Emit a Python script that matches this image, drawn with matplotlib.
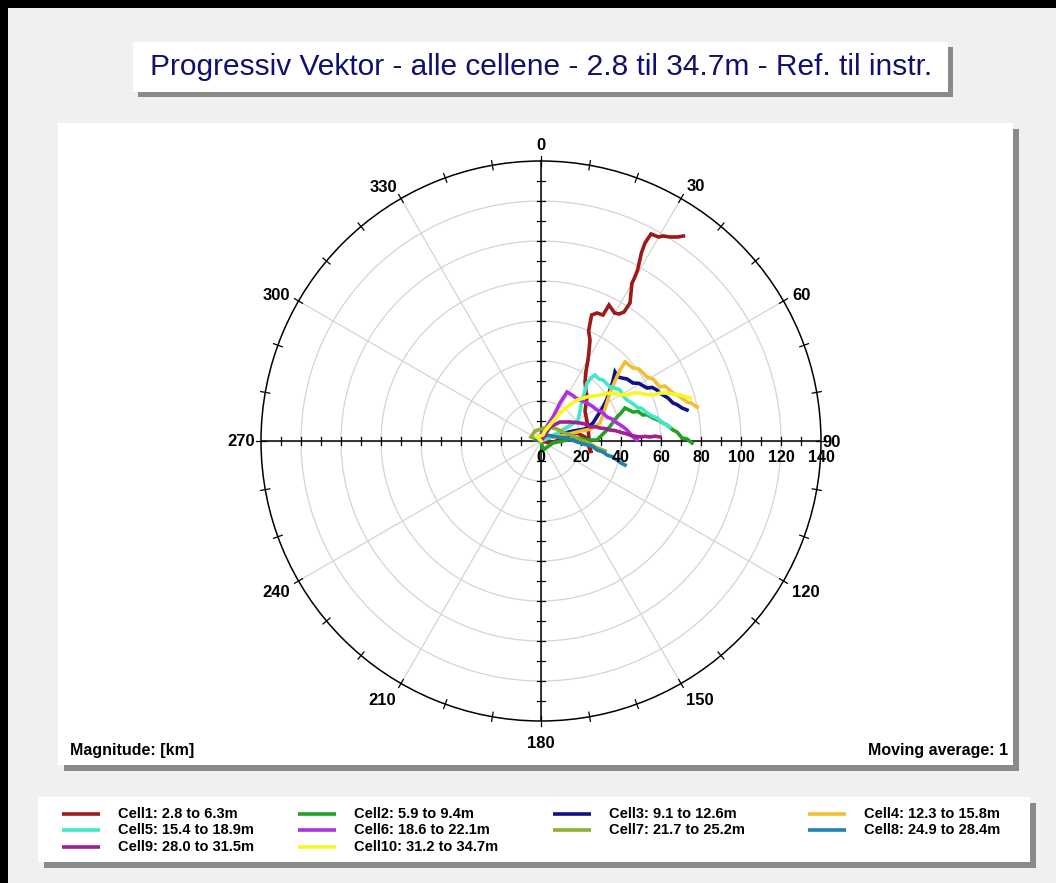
import numpy as np
import matplotlib.pyplot as plt
from matplotlib.patches import Rectangle

plt.rcParams['font.family'] = ['Liberation Sans', 'DejaVu Sans']

# progressive vector end points, km east (x) / km north (y)
cell1_x = [0, 5, 10, 15, 18, 22, 24, 25, 24, 23.5, 22, 23, 22.5, 22, 22.5, 23.5, 24, 24.5, 23.8, 25.3, 28, 31, 34, 36.8, 39, 41.5, 44.5, 45.5, 46.5, 48.3, 50.2, 52, 55, 58.8, 61, 64.5, 68.4, 71.2]
cell1_y = [0, -1, 1, 3, 4, 2, -3, -6, 1, 7, 15, 22, 25, 29.5, 35, 40.5, 45, 50.5, 55, 63, 64, 63, 68, 64, 63.5, 64.5, 69, 79, 81, 85.5, 94, 99, 103.5, 102, 102.5, 102, 102, 102.5]
cell2_x = [0, 1, 6, 13, 19.5, 23, 28, 30, 33, 35, 38, 40, 42, 44, 46, 48.5, 51, 53, 56, 58.5, 61, 63, 66, 68, 70.5, 73, 75.5]
cell2_y = [0, -4.5, -1, 0.5, 1.5, 0.5, 0.5, 2.5, 5.5, 8, 12, 14, 16.5, 15.5, 14.5, 14.8, 13, 13.2, 11.5, 10.5, 9, 8, 5.5, 4.5, 1.5, 1, -1]
cell3_x = [0, 8, 16, 22, 26, 28.5, 31, 33, 34.5, 36, 37, 38.5, 40.5, 43, 46, 49, 53, 55.5, 58, 59.5, 61, 63.5, 66, 68, 70.5, 73]
cell3_y = [0, 3, 5, 6, 9, 13, 17, 21, 25.5, 30, 34.5, 32, 31.5, 31, 29, 28.8, 26.5, 26.8, 25.5, 24, 23, 21.5, 19, 18.2, 16.5, 15.5]
cell4_x = [0, 5, 12, 20, 25, 29.5, 32, 34.5, 37, 39.5, 42, 44, 46, 49, 53, 56, 59.5, 62, 66, 69, 73, 75, 78]
cell4_y = [0, 2, 3, 5, 6, 9, 16, 24, 30, 35.5, 39.5, 38, 36.5, 36, 32, 31, 27, 27.5, 24, 22.5, 19.5, 19, 17]
cell5_x = [0, 5, 10, 15, 18.5, 19.5, 20.5, 22, 23, 25, 27, 29, 31, 34.5, 37, 39.5, 41, 43, 45.5, 48, 50.5, 53, 55.5, 58, 61, 64.5]
cell5_y = [0, 2, 5, 8, 10.5, 15, 20.5, 25, 29, 31.5, 33, 31, 30.5, 27, 26.5, 25.5, 22.5, 20.5, 19, 17, 16.2, 14, 12.5, 11.5, 9, 7]
cell6_x = [0, -1, 2, 6, 9.5, 13, 15.5, 17.5, 19.5, 23, 25.5, 28, 30.5, 33, 35.5, 38, 40.5, 43, 46, 48]
cell6_y = [0, 2, 6, 12, 19, 24.5, 23, 21.5, 20.5, 19, 17.5, 15.5, 14.5, 12, 11, 9, 7.5, 5.5, 2, 0.5]
cell7_x = [0, -5, -3, 3, 8, 12, 16, 20, 24, 27, 32]
cell7_y = [0, 2, 5, 7, 6, 4, 2.5, 0.5, -1, -3, -5]
cell8_x = [0, -2, 3, 8, 13, 18, 23, 26, 28, 31, 33, 36, 38, 40, 42]
cell8_y = [0, 0.5, 3, 2, 1.5, -0.5, -2, -2.8, -4.5, -5.5, -7, -8, -9.5, -11, -12]
cell9_x = [0, 2, 4.5, 9.5, 14.5, 19.5, 22, 24.5, 27, 29.5, 32, 34.5, 37, 39.5, 42, 44.5, 47, 49.5, 52, 54.5, 57, 59.5]
cell9_y = [0, 3, 7, 9.5, 9.5, 9, 8.5, 7, 7.2, 6.5, 6.2, 5.5, 5.2, 4.5, 3.8, 3, 2.4, 2, 2.3, 2, 2.4, 2]
cell10_x = [0, -2, 1, 2, 4.5, 9.5, 13, 18, 23, 26, 29.5, 33, 36, 39.5, 43, 46, 49.5, 53, 56, 59.5, 63, 66, 69.5, 72, 74.5]
cell10_y = [0, 2, 3, 5, 8, 14, 17, 20.5, 22, 22.5, 23, 23.8, 24, 23.2, 23, 24, 24, 23.2, 23, 24, 24, 23.5, 23, 22.2, 21.5]

labels = ['Cell1: 2.8 to 6.3m', 'Cell2: 5.9 to 9.4m', 'Cell3: 9.1 to 12.6m', 'Cell4: 12.3 to 15.8m',
          'Cell5: 15.4 to 18.9m', 'Cell6: 18.6 to 22.1m', 'Cell7: 21.7 to 25.2m', 'Cell8: 24.9 to 28.4m',
          'Cell9: 28.0 to 31.5m', 'Cell10: 31.2 to 34.7m']
colors = ['#a01818', '#22a022', '#10108c', '#f0c030', '#40e8c8',
          '#b030e0', '#90b030', '#2080b0', '#a02090', '#f8f820']
xs = [cell1_x, cell2_x, cell3_x, cell4_x, cell5_x, cell6_x, cell7_x, cell8_x, cell9_x, cell10_x]
ys = [cell1_y, cell2_y, cell3_y, cell4_y, cell5_y, cell6_y, cell7_y, cell8_y, cell9_y, cell10_y]

angle_ticks = list(range(0, 360, 30))
r_ticks = [0, 20, 40, 60, 80, 100, 120, 140]
rmax = 140

W, H = 1056, 883
fig = plt.figure(figsize=(W / 100, H / 100), dpi=100)
fig.patch.set_facecolor('#f0f0f0')

# background layer in pixel coordinates
bg = fig.add_axes([0, 0, 1, 1])
bg.set_xlim(0, W)
bg.set_ylim(H, 0)
bg.axis('off')

def box(x0, y0, x1, y1, sh=6):
    bg.add_patch(Rectangle((x0 + sh, y0 + sh), x1 - x0, y1 - y0, facecolor='#8a8a8a', edgecolor='none'))
    bg.add_patch(Rectangle((x0, y0), x1 - x0, y1 - y0, facecolor='white', edgecolor='none'))

bg.add_patch(Rectangle((0, 0), W, 8, facecolor='black'))
bg.add_patch(Rectangle((0, 0), 8, H, facecolor='black'))
box(133, 42, 948, 92, 5)
box(58, 123, 1013, 765, 6)
box(38, 797, 1030, 862, 6)

bg.text(541, 67, 'Progressiv Vektor - alle cellene - 2.8 til 34.7m - Ref. til instr.',
        ha='center', va='center', fontsize=21.5, color='#101070')
bg.text(70, 751, 'Magnitude: [km]', ha='left', va='center', fontsize=11.5, fontweight='bold')
bg.text(1008, 751, 'Moving average: 1', ha='right', va='center', fontsize=11.5, fontweight='bold')

# legend, row-wise like the original
col_x = [62, 298, 553, 808]
row_y = [814, 830, 847]
for i, (lab, c) in enumerate(zip(labels, colors)):
    cx = col_x[i % 4]
    ry = row_y[i // 4]
    bg.plot([cx, cx + 38], [ry, ry], color=c, lw=2.6, solid_capstyle='butt')
    bg.text(cx + 56, ry, lab, ha='left', va='center', fontsize=10.5, fontweight='bold')

# polar grid
cx0, cy0, R = 541, 441, 280
rect = [(cx0 - R) / W, (H - cy0 - R) / H, 2 * R / W, 2 * R / H]
ax = fig.add_axes(rect, projection='polar')
ax.set_theta_zero_location('N')
ax.set_theta_direction(-1)
ax.set_rlim(0, rmax)
ax.set_rticks(r_ticks[1:-1])
ax.set_yticklabels([])
ax.set_xticks(np.radians(angle_ticks))
ax.set_xticklabels([])
ax.tick_params(length=0)
ax.grid(color='#d4d4d4', lw=0.9)
ax.spines['polar'].set_color('black')
ax.spines['polar'].set_linewidth(1.1)

for a in range(0, 360, 10):
    ax.plot([np.radians(a)] * 2, [rmax - 2.3, rmax + 2.3], color='black', lw=0.9, clip_on=False)

# label anchor (angle, radius) as placed in the original
lab_pos = {0: (0, 148), 30: (31.4, 148.8), 60: (60.9, 149.3), 90: (90.2, 145.5),
           120: (119.7, 152.5), 150: (148.5, 152), 180: (180, 151), 210: (211.5, 152),
           240: (240.3, 152.5), 270: (270, 150), 300: (298.7, 151), 330: (328.1, 149.5)}
for a in angle_ticks:
    th, rr = lab_pos[a]
    ax.text(np.radians(th), rr, str(a), ha='center', va='center',
            fontsize=12, fontweight='bold', clip_on=False)

# cartesian overlay for the axes cross and the vectors
ov = fig.add_axes(rect)
ov.set_xlim(-rmax, rmax)
ov.set_ylim(-rmax, rmax)
ov.axis('off')
ov.patch.set_alpha(0)
ov.plot([-rmax, rmax], [0, 0], color='black', lw=1.1)
ov.plot([0, 0], [-rmax, rmax], color='black', lw=1.1)
for t in range(-rmax + 10, rmax, 10):
    if t == 0:
        continue
    ov.plot([t, t], [-2.2, 2.2], color='black', lw=0.9)
    ov.plot([-2.2, 2.2], [t, t], color='black', lw=0.9)
for t in r_ticks:
    ov.text(t, -8, str(t), ha='center', va='center', fontsize=11.5, fontweight='bold')

for x, y, c in zip(xs, ys, colors):
    ov.plot(x, y, color=c, lw=2.6, solid_joinstyle='miter')

fig.savefig('out.png', dpi=100, facecolor=fig.get_facecolor())
